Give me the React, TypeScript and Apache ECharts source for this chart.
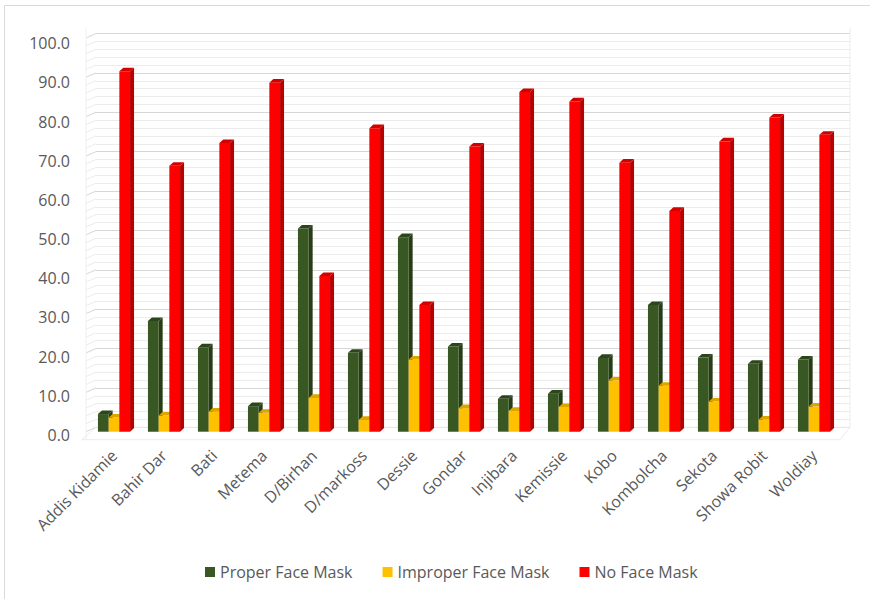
import React, { useEffect, useRef } from "react";
import * as echarts from "echarts";

// Towns surveyed
const categories = [
  "Addis Kidamie",
  "Bahir Dar",
  "Bati",
  "Metema",
  "D/Birhan",
  "D/markoss",
  "Dessie",
  "Gondar",
  "Injibara",
  "Kemissie",
  "Kobo",
  "Kombolcha",
  "Sekota",
  "Showa Robit",
  "Woldiay",
];

const seriesNames = ["Proper Face Mask", "Improper Face Mask", "No Face Mask"];

// Percent of people observed in each group
const properMask = [4.5, 28.2, 21.5, 6.5, 51.8, 20.1, 49.6, 21.7, 8.4, 9.7, 18.8, 32.3, 18.9, 17.3, 18.4];
const improperMask = [3.6, 4.1, 5.1, 4.8, 8.6, 3.0, 18.4, 6.0, 5.3, 6.3, 13.1, 11.7, 7.7, 3.1, 6.4];
const noMask = [91.9, 67.8, 73.6, 89.0, 39.7, 77.4, 32.3, 72.7, 86.6, 84.2, 68.6, 56.3, 74.0, 80.1, 75.7];

const yMin = 0;
const yMax = 100;
const yStep = 10;

const FONT = "'Open Sans', 'Noto Sans', sans-serif";
const TEXT = "#595959";

// Face colours: front, side, top
const palette = [
  { front: "#385723", side: "#263d17", top: "#2c461b" },
  { front: "#ffc000", side: "#c99600", top: "#dca500" },
  { front: "#ff0000", side: "#b80000", top: "#d40000" },
];

const DX = 4;
const DY = 3.6;

function makeRenderItem(idx: number) {
  const c = palette[idx];
  return (params: any, api: any) => {
    const cat = api.value(0);
    const val = api.value(1);
    const top = api.coord([cat, val]);
    const base = api.coord([cat, 0]);
    const band = api.size([1, 0])[0];
    const w = band * 0.214;
    const x0 = top[0] - (w * 3) / 2 + idx * w;
    const yT = top[1];
    const yB = base[1];
    return {
      type: "group",
      children: [
        {
          type: "polygon",
          shape: {
            points: [
              [x0 + w, yT],
              [x0 + w + DX, yT - DY],
              [x0 + w + DX, yB - DY],
              [x0 + w, yB],
            ],
          },
          style: { fill: c.side },
        },
        {
          type: "rect",
          shape: { x: x0, y: yT, width: w, height: yB - yT },
          style: { fill: c.front },
        },
        {
          type: "polygon",
          shape: {
            points: [
              [x0, yT],
              [x0 + DX, yT - DY],
              [x0 + w + DX, yT - DY],
              [x0 + w, yT],
            ],
          },
          style: { fill: c.top },
        },
      ],
    };
  };
}

export default function App() {
  const ref = useRef<HTMLDivElement>(null);

  useEffect(() => {
    if (!ref.current) return;
    const chart = echarts.init(ref.current, undefined, { renderer: "svg" });

    const values = [properMask, improperMask, noMask];

    chart.setOption({
      animation: false,
      backgroundColor: "#ffffff",
      textStyle: { fontFamily: FONT },
      grid: [
        // back wall
        { left: 96, right: 20, top: 33.5, height: 393.8 },
        // bars (front plane)
        { left: 89, right: 31, top: 39.5, height: 392.2 },
        // value labels
        { left: 89, right: 31, top: 43.3, height: 391.7 },
      ],
      xAxis: [
        { gridIndex: 0, type: "value", show: false, min: 0, max: 1 },
        {
          gridIndex: 1,
          type: "category",
          data: categories,
          axisLine: { show: false },
          axisTick: { show: false },
          axisLabel: {
            interval: 0,
            rotate: 45,
            margin: 21,
            fontSize: 16,
            color: TEXT,
            fontFamily: FONT,
          },
        },
        { gridIndex: 2, type: "value", show: false, min: 0, max: 1 },
      ],
      yAxis: [
        {
          gridIndex: 0,
          type: "value",
          min: yMin,
          max: yMax,
          interval: yStep,
          axisLabel: { show: false },
          axisLine: { show: false },
          axisTick: { show: false },
          splitLine: { show: true, lineStyle: { color: "#d6d6d6", width: 1 } },
          minorTick: { show: false, splitNumber: 5 },
          minorSplitLine: { show: true, lineStyle: { color: "#ececec", width: 1 } },
        },
        {
          gridIndex: 1,
          type: "value",
          min: yMin,
          max: yMax,
          interval: yStep,
          axisLabel: { show: false },
          axisLine: { show: false },
          axisTick: { show: false },
          splitLine: { show: false },
        },
        {
          gridIndex: 2,
          type: "value",
          min: yMin,
          max: yMax,
          interval: yStep,
          axisLine: { show: false },
          axisTick: { show: false },
          splitLine: { show: false },
          axisLabel: {
            margin: 19,
            fontSize: 16,
            color: TEXT,
            fontFamily: FONT,
            formatter: (v: number) => v.toFixed(1),
          },
        },
      ],
      legend: {
        data: seriesNames,
        top: 559,
        left: 200,
        icon: "rect",
        itemWidth: 10,
        itemHeight: 10,
        itemGap: 30,
        textStyle: { fontSize: 16, color: TEXT, fontFamily: FONT },
      },
      series: seriesNames.map((name, idx) => ({
        name,
        type: "custom",
        xAxisIndex: 1,
        yAxisIndex: 1,
        itemStyle: { color: palette[idx].front },
        renderItem: makeRenderItem(idx),
        encode: { x: 0, y: 1 },
        data: values[idx].map((v, i) => [i, v]),
      })),
    });

    // Side wall and floor edges of the 3D box, placed from the back-wall scale
    const g: any[] = [];
    const backLeft = chart.convertToPixel({ xAxisIndex: 0 }, 0) as number;
    const backRight = chart.convertToPixel({ xAxisIndex: 0 }, 1) as number;
    const y0 = chart.convertToPixel({ yAxisIndex: 0 }, yMin) as number;
    const y100 = chart.convertToPixel({ yAxisIndex: 0 }, yMax) as number;
    const sx = -10;
    const sy = 4.4;
    for (let v = yMin; v <= yMax; v += yStep / 5) {
      const y = chart.convertToPixel({ yAxisIndex: 0 }, v) as number;
      const major = Math.abs(v % yStep) < 1e-6;
      g.push({
        type: "line",
        shape: { x1: backLeft, y1: y, x2: backLeft + sx, y2: y + sy },
        style: { stroke: major ? "#d6d6d6" : "#ececec", lineWidth: 1 },
        silent: true,
        z: 0,
      });
    }
    // wall edges
    g.push({
      type: "line",
      shape: { x1: backLeft + sx, y1: y100 - 6, x2: backLeft + sx, y2: y0 + sy + 8 },
      style: { stroke: "#f0f0f0", lineWidth: 1 },
      silent: true,
      z: 0,
    });
    g.push({
      type: "line",
      shape: { x1: backRight, y1: y100 - 6, x2: backRight, y2: y0 },
      style: { stroke: "#ececec", lineWidth: 1 },
      silent: true,
      z: 0,
    });
    // floor
    g.push({
      type: "polygon",
      shape: {
        points: [
          [backLeft, y0],
          [backRight, y0],
          [backRight + sx, y0 + sy + 8],
          [backLeft + sx - 4, y0 + sy + 8],
        ],
      },
      style: { fill: "none", stroke: "#ececec", lineWidth: 1 },
      silent: true,
      z: 0,
    });
    // outer frame
    g.push({
      type: "rect",
      shape: { x: 4.5, y: 5.5, width: 1000, height: 1000 },
      style: { fill: "none", stroke: "#d9d9d9", lineWidth: 1 },
      silent: true,
      z: 0,
    });
    chart.setOption({ graphic: g });

    return () => chart.dispose();
  }, []);

  return (
    <div
      ref={ref}
      style={{ position: "fixed", left: 0, top: 0, width: 870, height: 599 }}
    />
  );
}
